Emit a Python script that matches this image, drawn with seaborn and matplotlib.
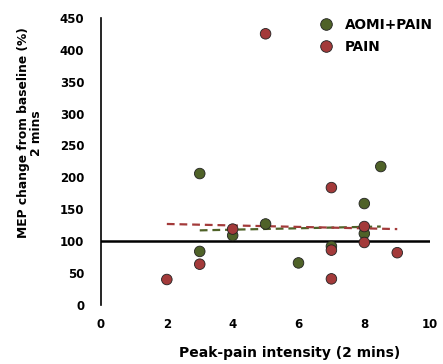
import numpy as np
import pandas as pd
import matplotlib
matplotlib.use("Agg")
import matplotlib.pyplot as plt
import seaborn as sns

# Data
aomi_x = [3, 3, 4, 5, 6, 7, 8, 8, 8.5]
aomi_y = [206, 84, 109, 127, 66, 92, 159, 112, 217]
pain_x = [2, 3, 4, 5, 7, 7, 7, 8, 8, 9]
pain_y = [40, 64, 119, 425, 184, 86, 41, 123, 98, 82]
# dashed trend lines (endpoints)
aomi_trend_x = [3, 8.5]
aomi_trend_y = [117, 123]
pain_trend_x = [2, 9]
pain_trend_y = [127, 119]
x_ticks = [0, 2, 4, 6, 8, 10]
y_ticks = [0, 50, 100, 150, 200, 250, 300, 350, 400, 450]
baseline = 100

green = "#4f6228"
red = "#a33a3a"

sns.set_theme(style="white")
plt.rcParams['font.family'] = ['DejaVu Sans']
plt.rcParams.update({"text.color": "black", "axes.labelcolor": "black",
                     "xtick.color": "black", "ytick.color": "black"})

df = pd.concat([
    pd.DataFrame({"x": aomi_x, "y": aomi_y, "group": "AOMI+PAIN"}),
    pd.DataFrame({"x": pain_x, "y": pain_y, "group": "PAIN"}),
])

fig = plt.figure(figsize=(4.43, 3.64), dpi=100)
ax = fig.add_axes([0.228, 0.162, 0.743, 0.789])

sns.lineplot(x=aomi_trend_x, y=aomi_trend_y, ax=ax, color=green, lw=1.6,
             linestyle=(0, (3.5, 2.2)), zorder=3)
sns.lineplot(x=pain_trend_x, y=pain_trend_y, ax=ax, color=red, lw=1.6,
             linestyle=(0, (3.5, 2.2)), zorder=3)
ax.axhline(baseline, color="black", lw=1.8, zorder=2)

sns.scatterplot(data=df, x="x", y="y", hue="group",
                palette={"AOMI+PAIN": green, "PAIN": red},
                s=58, edgecolor="#222222", linewidth=0.6, ax=ax, zorder=4)

ax.set_xlim(0, 10)
ax.set_ylim(0, 450)
ax.set_xticks(x_ticks)
ax.set_yticks(y_ticks)
ax.tick_params(axis="both", length=0, labelsize=8.5)
ax.tick_params(axis="y", pad=12)
ax.tick_params(axis="x", pad=9)
for lbl in ax.get_xticklabels() + ax.get_yticklabels():
    lbl.set_fontweight("bold")

for s in ["top", "right", "bottom"]:
    ax.spines[s].set_visible(False)
ax.spines["left"].set_color("black")
ax.spines["left"].set_linewidth(1.2)

ax.set_xlabel("Peak-pain intensity (2 mins)", fontsize=10, fontweight="bold")
ax.set_ylabel("MEP change from baseline (%)\n2 mins", fontsize=8.8,
              fontweight="bold", linespacing=1.0)
ax.xaxis.set_label_coords(0.574, -0.142)
ax.yaxis.set_label_coords(-0.175, 0.6)

leg = ax.legend(loc="upper left", bbox_to_anchor=(0.705, 0.95),
                bbox_transform=fig.transFigure, frameon=False,
                fontsize=9.8, handletextpad=0.4, labelspacing=0.55,
                borderaxespad=0, borderpad=0, markerscale=1.1)
for t in leg.get_texts():
    t.set_fontweight("bold")

fig.savefig("out.png", dpi=100)
